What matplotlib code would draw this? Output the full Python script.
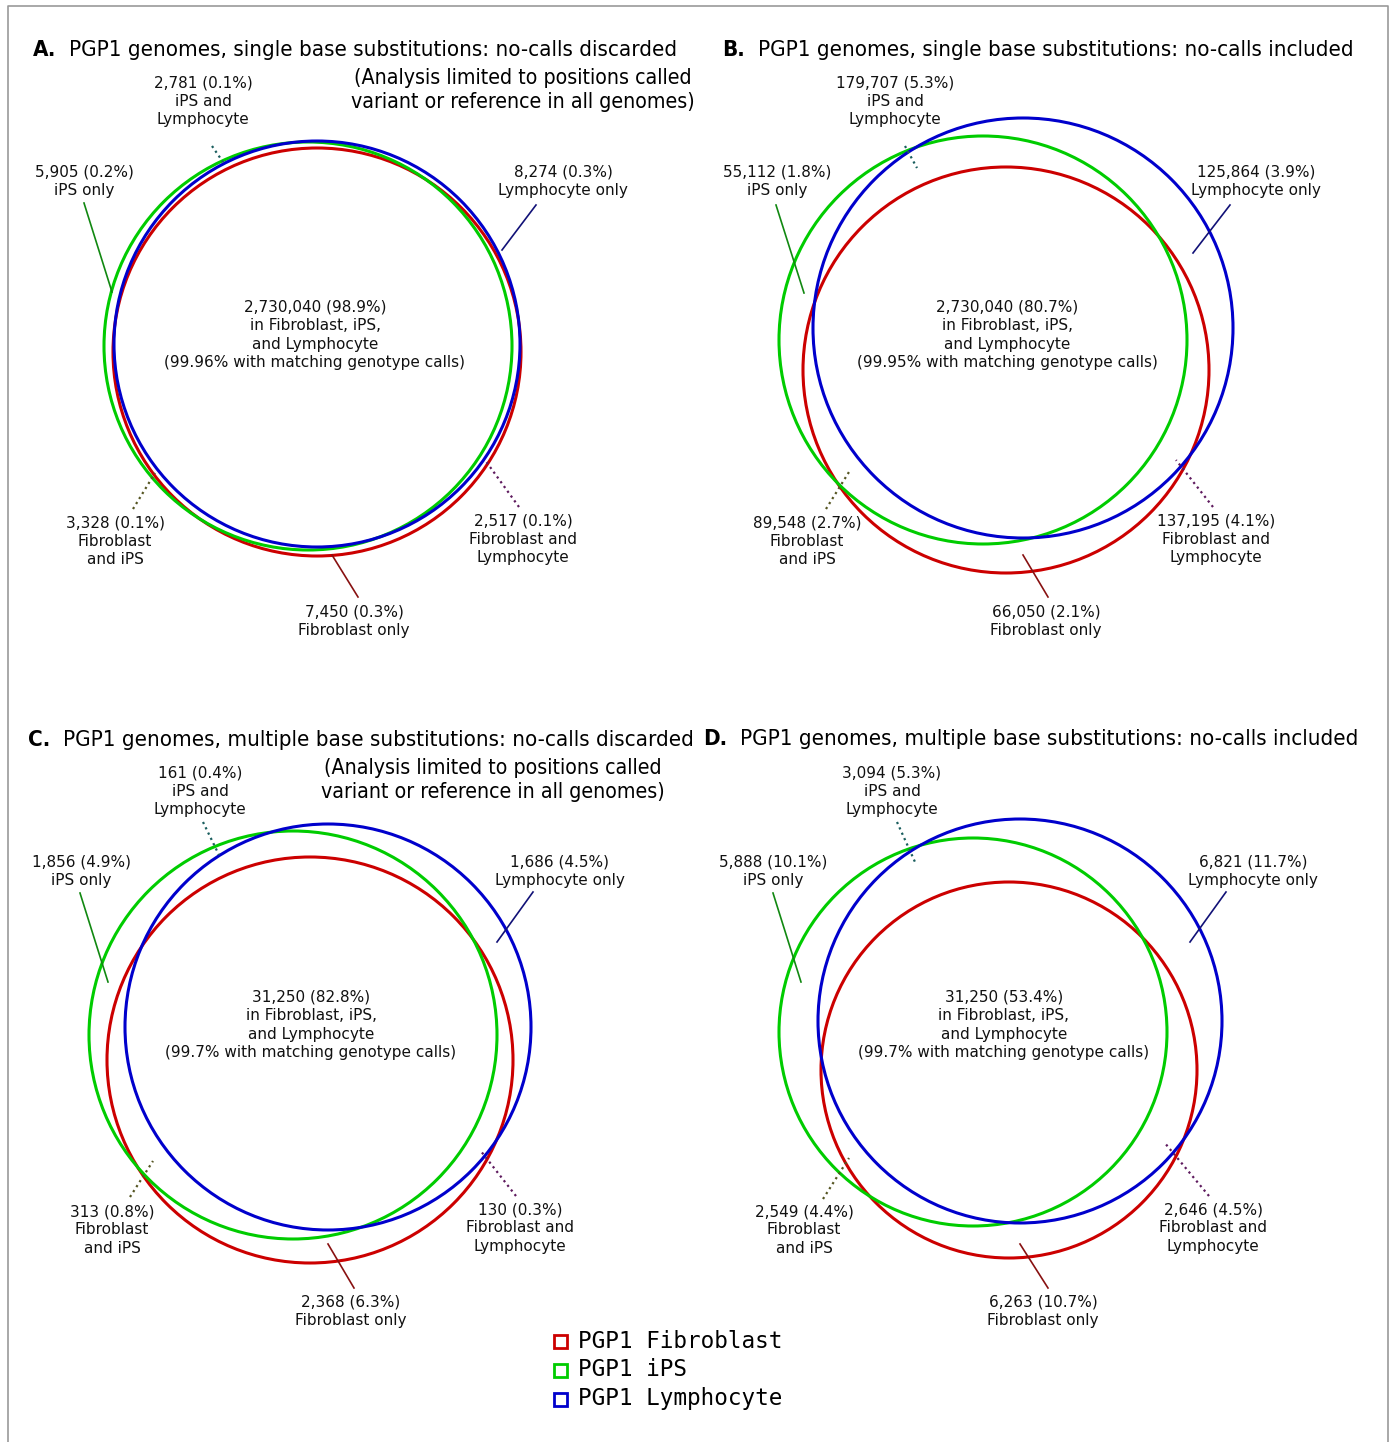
import matplotlib
matplotlib.use("Agg")
import matplotlib.pyplot as plt
from matplotlib.patches import Circle, Rectangle
from matplotlib import font_manager as fm

# region order: iPS+Lymph, iPS only, Lymph only, Fib+iPS, Fib+Lymph, Fib only, all three
region_names = ["iPS and\nLymphocyte", "iPS only", "Lymphocyte only",
                "Fibroblast\nand iPS", "Fibroblast and\nLymphocyte", "Fibroblast only"]

counts_A = [2781, 5905, 8274, 3328, 2517, 7450, 2730040]
pct_A = [0.1, 0.2, 0.3, 0.1, 0.1, 0.3, 98.9]
match_A = "99.96"

counts_B = [179707, 55112, 125864, 89548, 137195, 66050, 2730040]
pct_B = [5.3, 1.8, 3.9, 2.7, 4.1, 2.1, 80.7]
match_B = "99.95"

counts_C = [161, 1856, 1686, 313, 130, 2368, 31250]
pct_C = [0.4, 4.9, 4.5, 0.8, 0.3, 6.3, 82.8]
match_C = "99.7"

counts_D = [3094, 5888, 6821, 2549, 2646, 6263, 31250]
pct_D = [5.3, 10.1, 11.7, 4.4, 4.5, 10.7, 53.4]
match_D = "99.7"

panel_letters = ["A.", "B.", "C.", "D."]
panel_titles = ["PGP1 genomes, single base substitutions: no-calls discarded",
                "PGP1 genomes, single base substitutions: no-calls included",
                "PGP1 genomes, multiple base substitutions: no-calls discarded",
                "PGP1 genomes, multiple base substitutions: no-calls included"]
subtitle = "(Analysis limited to positions called\nvariant or reference in all genomes)"
legend_labels = ["PGP1 Fibroblast", "PGP1 iPS", "PGP1 Lymphocyte"]

# ---- styling / layout (pixel units) ----
RED, GREEN, BLUE = "#cc0000", "#00cc00", "#0000cc"
leader_styles = [("#1a5e5e", ":"), ("#118811", "-"), ("#111177", "-"),
                 ("#555522", ":"), ("#5e1a5e", ":"), ("#881111", "-")]

cond = [f.fname for f in fm.fontManager.ttflist
        if "DejaVuSansCondensed" in f.fname.replace("-", "") and "Bold" not in f.fname
        and "Oblique" not in f.fname]
cond_b = [f.fname for f in fm.fontManager.ttflist
          if "DejaVuSansCondensedBold" in f.fname.replace("-", "").replace("_", "")
          and "Oblique" not in f.fname]
title_fp = fm.FontProperties(fname=cond[0]) if cond else fm.FontProperties(family="DejaVu Sans")
bold_fp = fm.FontProperties(fname=cond_b[0]) if cond_b else fm.FontProperties(family="DejaVu Sans", weight="bold")

panels = [
    dict(counts=counts_A, pct=pct_A, match=match_A,
         circles=[(317, 352, 204, RED), (308, 346, 204, GREEN), (317, 344, 203, BLUE)],
         letter=(33, 50), title=(69, 50), sub=(695, 90),
         center=(315, 335),
         labels=[(203, 101), (84, 181), (563, 181), (115, 541), (523, 539), (354, 621)],
         leaders=[((212, 146), (223, 162)), ((84, 203), (112, 292)), ((536, 205), (502, 250)),
                  ((133, 509), (155, 473)), ((519, 507), (485, 460)), ((358, 597), (332, 555))]),
    dict(counts=counts_B, pct=pct_B, match=match_B,
         circles=[(1006, 370, 203, RED), (983, 340, 204, GREEN), (1023, 328, 210, BLUE)],
         letter=(722, 50), title=(758, 50), sub=None,
         center=(1007, 335),
         labels=[(895, 101), (777, 181), (1256, 181), (807, 541), (1216, 539), (1046, 621)],
         leaders=[((905, 146), (917, 168)), ((776, 205), (804, 293)), ((1230, 205), (1193, 253)),
                  ((826, 509), (849, 472)), ((1213, 507), (1176, 460)), ((1048, 597), (1023, 555))]),
    dict(counts=counts_C, pct=pct_C, match=match_C,
         circles=[(310, 1060, 203, RED), (293, 1035, 204, GREEN), (328, 1027, 203, BLUE)],
         letter=(28, 740), title=(63, 740), sub=(665, 780),
         center=(311, 1025),
         labels=[(200, 791), (81, 871), (560, 871), (112, 1230), (520, 1228), (351, 1311)],
         leaders=[((203, 822), (219, 855)), ((80, 893), (108, 982)), ((533, 892), (497, 942)),
                  ((130, 1197), (153, 1161)), ((516, 1196), (480, 1150)), ((354, 1288), (328, 1244))]),
    dict(counts=counts_D, pct=pct_D, match=match_D,
         circles=[(1009, 1070, 188, RED), (973, 1032, 194, GREEN), (1020, 1021, 202, BLUE)],
         letter=(703, 739), title=(740, 739), sub=None,
         center=(1004, 1025),
         labels=[(892, 791), (773, 871), (1253, 871), (804, 1230), (1213, 1228), (1043, 1311)],
         leaders=[((897, 822), (915, 862)), ((773, 893), (801, 982)), ((1226, 892), (1190, 942)),
                  ((823, 1199), (849, 1158)), ((1209, 1196), (1164, 1142)), ((1048, 1288), (1020, 1244))]),
]

W, H = 1392, 1442
fig = plt.figure(figsize=(W / 100, H / 100), dpi=100)
ax = fig.add_axes([0, 0, 1, 1])
ax.set_xlim(0, W)
ax.set_ylim(H, 0)
ax.set_aspect("equal")
ax.axis("off")

# outer frame
ax.plot([8, 8, 1388, 1388], [H + 5, 6, 6, H + 5], color="#999999", lw=1.2)

small = 11
for i, p in enumerate(panels):
    for cx, cy, r, col in p["circles"]:
        ax.add_patch(Circle((cx, cy), r, fill=False, edgecolor=col, lw=2.2))

    for (a, b), (col, ls) in zip(p["leaders"], leader_styles):
        ax.plot([a[0], b[0]], [a[1], b[1]], color=col, ls=ls,
                lw=1.6 if ls == ":" else 1.2)

    for k, (x, y) in enumerate(p["labels"]):
        txt = f"{p['counts'][k]:,} ({p['pct'][k]}%)\n{region_names[k]}"
        ax.text(x, y, txt, ha="center", va="center", fontsize=small,
                linespacing=1.28, color="#111111")

    cx, cy = p["center"]
    ax.text(cx, cy, f"{p['counts'][6]:,} ({p['pct'][6]}%)\nin Fibroblast, iPS,\nand Lymphocyte\n"
            f"({p['match']}% with matching genotype calls)",
            ha="center", va="center", fontsize=small, linespacing=1.28, color="#111111")

    lx, ly = p["letter"]
    ax.text(lx, ly, panel_letters[i], ha="left", va="center", fontproperties=bold_fp, fontsize=16)
    tx, ty = p["title"]
    ax.text(tx, ty, panel_titles[i], ha="left", va="center", fontproperties=title_fp, fontsize=16)
    if p["sub"]:
        sx, sy = p["sub"]
        ax.text(sx, sy, subtitle, ha="right", va="center", fontproperties=title_fp,
                fontsize=15.3, linespacing=1.22, multialignment="center")

# legend
for j, (lab, col) in enumerate(zip(legend_labels, [RED, GREEN, BLUE])):
    y = 1341 + 29 * j
    ax.add_patch(Rectangle((554, y - 6), 13, 13, fill=False, edgecolor=col, lw=2))
    ax.text(578, y, lab, ha="left", va="center", family="DejaVu Sans Mono", fontsize=16.3)

fig.savefig("out.png", dpi=100)
